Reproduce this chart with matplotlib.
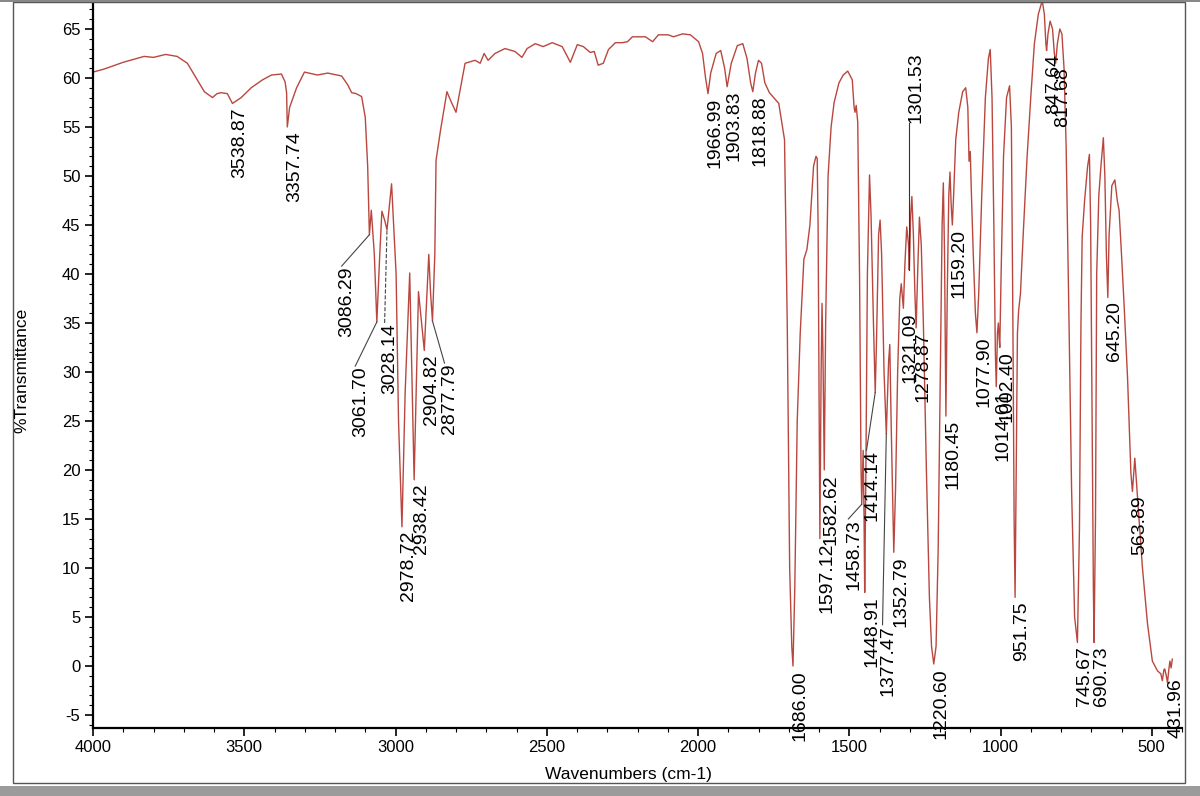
import numpy as np
import matplotlib.pyplot as plt
from matplotlib.patches import Rectangle
from matplotlib.ticker import MultipleLocator

plt.rcParams['font.family'] = ['Liberation Sans', 'DejaVu Sans']
plt.rcParams['axes.unicode_minus'] = False

# === Spectrum (wavenumber cm-1, %T) ===
wn = [4000, 3964, 3900, 3831, 3800, 3760, 3722, 3688, 3665, 3632, 3605, 3590, 3576, 3556,
      3539, 3510, 3477, 3440, 3410, 3377, 3365, 3360, 3357.7, 3350, 3327, 3301, 3258, 3224,
      3178, 3158, 3145, 3130, 3112, 3100, 3092, 3086.3, 3080, 3070, 3061.7, 3052, 3045, 3035,
      3028.1, 3020, 3013, 2998, 2990, 2978.7, 2968, 2953, 2946, 2938.4, 2930, 2924, 2904.8,
      2890, 2884, 2877.8, 2870, 2866, 2851, 2830, 2815, 2800, 2785, 2770, 2737, 2720, 2707,
      2694, 2671, 2638, 2605, 2582, 2565, 2538, 2512, 2482, 2449, 2422, 2399, 2379, 2356,
      2343, 2330, 2313, 2296, 2273, 2250, 2233, 2217, 2174, 2150, 2131, 2098, 2081, 2051,
      2025, 1998, 1985, 1975, 1967, 1958, 1940, 1925, 1912, 1903.8, 1890, 1870, 1852, 1838,
      1826, 1818.9, 1810, 1800, 1790, 1779, 1764, 1733, 1714, 1705, 1697, 1690, 1686,
      1680, 1672, 1662, 1650, 1640, 1630, 1618, 1610, 1606, 1603, 1600, 1597.1, 1593, 1590,
      1587, 1582.6, 1578, 1570, 1560, 1550, 1534, 1520, 1505, 1490, 1484, 1481, 1477, 1472,
      1466, 1461, 1458.7, 1454, 1451, 1448.9, 1445, 1440, 1433, 1428, 1420, 1414.1, 1410,
      1403, 1398, 1393, 1385, 1377.5, 1370, 1366, 1361, 1352.8, 1347, 1340, 1333, 1328, 1324,
      1321.1, 1316, 1310, 1304, 1301.5, 1297, 1293, 1288, 1283, 1278.9, 1274, 1268, 1262,
      1255, 1245, 1235, 1228, 1220.6, 1213, 1206, 1199, 1193, 1189, 1185, 1180.5, 1176,
      1171, 1167, 1163, 1159.2, 1155, 1148, 1138, 1125, 1115, 1108, 1104, 1100, 1096, 1090,
      1083, 1077.9, 1072, 1062, 1050, 1040, 1034, 1028, 1022, 1017, 1014, 1010, 1007, 1004.5,
      1002.4, 998, 990, 980, 970, 964, 959, 955, 951.8, 948, 944, 940, 934, 925, 912, 900,
      888, 875, 862, 855, 850, 847.6, 843, 836, 828, 822, 817.7, 812, 804, 797, 790, 783,
      775, 765, 755, 745.7, 739, 734, 730, 722, 712, 706, 702, 697, 693, 690.7, 686, 682,
      675, 668, 660, 655, 650, 645.2, 641, 632, 622, 614, 608, 600, 591, 580, 569, 563.9,
      560, 556, 550, 547, 531, 514, 498, 481, 470, 465, 460, 457, 452, 448, 444, 440, 436, 432]
trans = [60.6, 60.9, 61.6, 62.2, 62.1, 62.4, 62.2, 61.5, 60.3, 58.6, 58.0, 58.4, 58.5, 58.4,
         57.4, 58.0, 59.0, 59.8, 60.3, 60.4, 59.6, 58.5, 55.0, 57.0, 59.0, 60.6, 60.3, 60.5,
         60.2, 59.3, 58.5, 58.4, 58.1, 56.0, 51.0, 44.0, 46.5, 42.0, 35.1, 42.0, 46.4, 45.4,
         44.5, 47.0, 49.2, 40.0, 25.0, 14.2, 28.0, 40.1, 30.0, 19.0, 30.0, 38.2, 32.2,
         42.0, 38.0, 35.2, 42.0, 51.6, 54.7, 58.6, 57.5, 56.5, 59.0, 61.5, 61.8, 61.5, 62.5,
         61.8, 62.5, 63.0, 62.7, 62.1, 63.0, 63.5, 63.2, 63.6, 63.2, 61.6, 63.4, 63.2, 62.6,
         62.7, 61.3, 61.5, 62.9, 63.6, 63.6, 63.7, 64.2, 64.2, 63.7, 64.4, 64.4, 64.2, 64.5,
         64.4, 63.7, 62.5, 60.0, 58.4, 60.5, 62.5, 62.8, 61.0, 59.1, 61.5, 63.3, 63.5, 62.0,
         59.5, 58.6, 60.5, 61.8, 61.5, 59.5, 58.5, 57.4, 53.7, 35.0, 10.0, 2.0, 0.0,
         8.0, 25.0, 34.0, 41.5, 42.5, 45.0, 51.0, 52.0, 51.8, 45.0, 28.0, 13.0, 30.0, 37.0,
         32.0, 20.0, 35.0, 50.0, 55.0, 57.5, 59.5, 60.3, 60.7, 59.8, 57.0, 56.5, 57.2, 55.5,
         40.0, 20.0, 16.5, 22.0, 15.0, 7.5, 20.0, 40.0, 50.1, 46.0, 35.0, 27.9, 33.0,
         44.0, 45.5, 42.0, 30.0, 23.7, 31.0, 32.8, 24.0, 11.6, 18.0, 30.0, 37.5, 39.0, 37.5,
         36.5, 41.0, 44.8, 43.0, 40.4, 46.0, 47.9, 44.0, 38.0, 34.5, 40.0, 45.8, 43.0,
         35.0, 20.0, 7.0, 2.0, 0.2, 2.0, 12.0, 30.0, 45.0, 49.3, 42.0, 25.5, 38.0,
         48.0, 50.4, 47.0, 45.0, 48.0, 53.7, 56.5, 58.6, 59.0, 57.0, 51.5, 52.5, 48.0, 42.0,
         36.0, 34.0, 38.0, 48.0, 58.0, 62.0, 62.9, 58.0, 45.0, 32.0, 28.5, 34.0, 35.0, 33.5,
         32.5, 40.0, 52.0, 58.0, 59.2, 55.0, 35.0, 15.0, 7.0, 20.0, 34.0, 36.3, 38.0, 44.0, 52.0, 58.0,
         63.5, 66.5, 67.9, 66.5, 63.5, 62.8, 64.5, 65.8, 65.0, 62.5, 61.5, 63.5, 65.0, 64.5, 61.0, 53.0,
         38.0, 18.0, 5.0, 2.4, 14.0, 35.0, 43.8, 47.5, 51.0, 52.2, 45.0, 25.0, 8.0, 2.4, 15.0, 40.0,
         48.0, 51.0, 53.9, 50.0, 42.0, 37.6, 44.0, 49.0, 49.6, 47.5, 46.5, 42.0, 36.6, 29.4, 19.7, 17.8,
         19.5, 21.2, 18.5, 17.3, 10.1, 4.3, 0.5, -0.5, -0.8, -1.5, -0.4, -0.3, -1.0, -1.7, -0.5, 0.5, -0.2, 0.7]

# === Peak labels ===
peak_wn = [3538.87, 3357.74, 3086.29, 3061.70, 3028.14, 2978.72, 2938.42, 2904.82, 2877.79,
           1966.99, 1903.83, 1818.88, 1686.00, 1597.12, 1582.62, 1458.73, 1448.91, 1414.14,
           1377.47, 1352.79, 1321.09, 1301.53, 1278.87, 1220.60, 1180.45, 1159.20, 1077.90,
           1014.01, 1002.40, 951.75, 847.64, 817.68, 745.67, 690.73, 645.20, 563.89, 431.96]
peak_t = [57.4, 55.0, 44.0, 35.1, 44.5, 14.2, 19.0, 32.2, 35.2,
          58.4, 59.1, 58.6, 0.0, 13.0, 20.0, 16.5, 7.5, 27.9,
          23.7, 11.6, 36.5, 40.4, 34.5, 0.2, 25.5, 45.0, 34.0,
          28.5, 32.5, 7.0, 62.8, 61.5, 2.4, 2.4, 37.6, 17.8, 0.7]

# labels moved away from their peak: label centre x, label top y, leader style
moved = {3086.29: (3160, 40.8, '-'), 3061.70: (3115, 30.6, '-'), 3028.14: (3018, 35.0, '--'),
         2877.79: (2820, 30.9, '-'), 1458.73: (1485, 15.0, '-'), 1414.14: (1425, 22.0, '-'),
         1377.47: (1372, 4.2, '-'), 1301.53: (1278, None, '-'), 431.96: (420, -1.3, None)}

fig = plt.figure(figsize=(12, 7.96), dpi=100)
ax = fig.add_axes([93/1200, 68/796, 1089/1200, 725.5/796])

ax.plot(wn, trans, color='#b9473f', lw=1.0)

off = 23  # labels sit a little right of the peak
for w, t in zip(peak_wn, peak_t):
    if w in moved:
        lx, ltop, ls = moved[w]
        if w == 1301.53:
            # label above the band, leader drawn down to it
            ax.text(lx, 55.4, f'{w:.2f}', rotation=90, ha='center', va='bottom', fontsize=14)
            ax.plot([w, w], [55.4, t], color='#333333', lw=0.8)
            continue
        ax.text(lx, ltop, f'{w:.2f}', rotation=90, ha='center', va='top', fontsize=14)
        if ls:
            ax.plot([lx + 18, w], [ltop, t], color='#444444', lw=0.8, ls=ls)
    else:
        ax.text(w - off, t - 0.4, f'{w:.2f}', rotation=90, ha='center', va='top', fontsize=14)

ax.set_xlim(4000, 400)
ax.set_ylim(-6.33, 67.7)
ax.xaxis.set_major_locator(MultipleLocator(500))
ax.xaxis.set_minor_locator(MultipleLocator(100))
ax.yaxis.set_major_locator(MultipleLocator(5))
ax.yaxis.set_minor_locator(MultipleLocator(1))
ax.set_xticks([4000, 3500, 3000, 2500, 2000, 1500, 1000, 500])
ax.tick_params(which='major', length=6, width=1.2, labelsize=12, pad=3)
ax.tick_params(which='minor', length=3, width=0.8)
for s in ['top', 'right']:
    ax.spines[s].set_visible(False)
for s in ['left', 'bottom']:
    ax.spines[s].set_linewidth(1.6)

fig.text(22/1200, 1 - 370/796, '%Transmittance', rotation=90, ha='center', va='center', fontsize=12.5)
fig.text(628/1200, 1 - 775/796, 'Wavenumbers (cm-1)', ha='center', va='center', fontsize=12.5)

# page frame of the scanned print-out
fig.add_artist(Rectangle((13/1200, 1 - 783/796), 1172/1200, 781/796, transform=fig.transFigure,
                         fill=False, ec='#555555', lw=1.0))
fig.add_artist(Rectangle((0, 0), 1, 10/796, transform=fig.transFigure, fc='#9b9b9b', ec='none'))
fig.add_artist(Rectangle((0, 1 - 2/796), 1, 2/796, transform=fig.transFigure, fc='#888888', ec='none'))

fig.savefig('out.png', dpi=100)
